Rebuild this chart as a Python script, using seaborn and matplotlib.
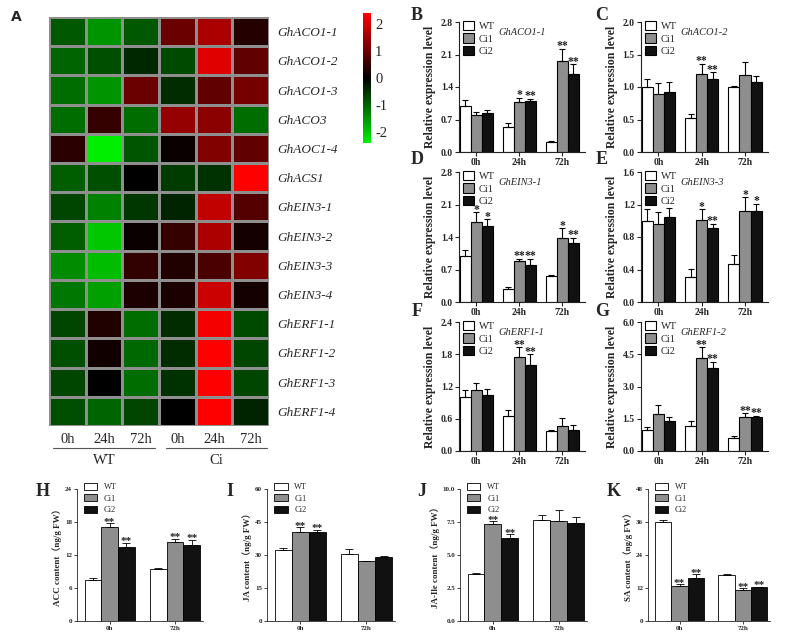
import numpy as np
import pandas as pd
import matplotlib
matplotlib.use("Agg")
import matplotlib.pyplot as plt
from matplotlib.colors import LinearSegmentedColormap
from matplotlib.patches import Patch
from matplotlib.ticker import FormatStrFormatter, MultipleLocator
import seaborn as sns

sns.set_theme(style="ticks")
plt.rcParams['font.family'] = ['Liberation Serif', 'Noto Sans CJK SC']
plt.rcParams['axes.unicode_minus'] = False

# ---- heatmap data (z-scores) ----
genes = ["GhACO1-1", "GhACO1-2", "GhACO1-3", "GhACO3", "GhAOC1-4", "GhACS1",
         "GhEIN3-1", "GhEIN3-2", "GhEIN3-3", "GhEIN3-4",
         "GhERF1-1", "GhERF1-2", "GhERF1-3", "GhERF1-4"]
heat_cols = ["0h", "24h", "72h", "0h", "24h", "72h"]
heat_values = [
    [-0.9, -1.5, -0.9, 1.0, 1.6, 0.35],
    [-1.0, -0.8, -0.4, -0.75, 2.1, 0.9],
    [-1.1, -1.5, 1.0, -0.45, 0.9, 1.1],
    [-1.1, 0.5, -1.1, 1.4, 1.3, -1.1],
    [0.4, -2.4, -0.85, 0.1, 1.2, 0.9],
    [-0.95, -0.8, 0.0, -0.6, -0.5, 2.4],
    [-0.7, -1.3, -0.55, -0.35, 1.8, 0.8],
    [-0.95, -2.0, 0.1, 0.5, 1.6, 0.2],
    [-1.4, -1.9, 0.45, 0.3, 0.7, 1.2],
    [-1.2, -1.6, 0.25, 0.25, 1.9, 0.2],
    [-0.7, 0.3, -1.1, -0.45, 2.3, -0.75],
    [-0.8, 0.15, -1.05, -0.45, 2.4, -0.7],
    [-0.7, 0.0, -1.1, -0.5, 2.4, -0.7],
    [-0.8, -1.0, -0.7, 0.0, 2.4, -0.35],
]

# ---- bar chart data, rows = WT, Ci1, Ci2 ----
lines = ["WT", "Ci1", "Ci2"]
times3 = ["0h", "24h", "72h"]
times2 = ["0h", "72h"]

aco1_1_mean = [[1.0, 0.53, 0.22], [0.79, 1.07, 1.97], [0.84, 1.10, 1.67]]
aco1_1_err = [[0.13, 0.09, 0.01], [0.08, 0.10, 0.25], [0.07, 0.05, 0.22]]
aco1_1_star = [["", "", ""], ["", "*", "**"], ["", "**", "**"]]

aco1_2_mean = [[1.0, 0.53, 1.0], [0.90, 1.20, 1.19], [0.93, 1.13, 1.08]]
aco1_2_err = [[0.13, 0.05, 0.02], [0.16, 0.16, 0.20], [0.15, 0.10, 0.09]]
aco1_2_star = [["", "", ""], ["", "**", ""], ["", "**", ""]]

ein3_1_mean = [[1.0, 0.28, 0.55], [1.73, 0.88, 1.37], [1.63, 0.80, 1.28]]
ein3_1_err = [[0.12, 0.04, 0.04], [0.20, 0.05, 0.22], [0.15, 0.13, 0.10]]
ein3_1_star = [["", "", ""], ["*", "**", "*"], ["*", "**", "**"]]

ein3_3_mean = [[1.0, 0.31, 0.47], [0.96, 1.01, 1.12], [1.05, 0.91, 1.12]]
ein3_3_err = [[0.15, 0.10, 0.11], [0.15, 0.13, 0.17], [0.11, 0.05, 0.09]]
ein3_3_star = [["", "", ""], ["", "*", "*"], ["", "**", "*"]]

erf1_1_mean = [[1.0, 0.65, 0.38], [1.13, 1.75, 0.46], [1.05, 1.60, 0.39]]
erf1_1_err = [[0.13, 0.11, 0.02], [0.14, 0.18, 0.16], [0.10, 0.20, 0.10]]
erf1_1_star = [["", "", ""], ["", "**", ""], ["", "**", ""]]

erf1_2_mean = [[1.0, 1.18, 0.62], [1.70, 4.33, 1.60], [1.38, 3.85, 1.57]]
erf1_2_err = [[0.13, 0.22, 0.08], [0.42, 0.50, 0.15], [0.20, 0.30, 0.08]]
erf1_2_star = [["", "", ""], ["", "**", "**"], ["", "**", "**"]]

acc_mean = [[7.5, 9.4], [17.1, 14.4], [13.5, 13.9]]
acc_err = [[0.3, 0.3], [0.7, 0.6], [0.7, 0.9]]
ja_mean = [[32.1, 30.3], [40.6, 27.2], [40.3, 29.1]]
ja_err = [[0.9, 2.3], [2.1, 0.3], [1.2, 0.3]]
jaile_mean = [[3.53, 7.66], [7.33, 7.59], [6.32, 7.41]]
jaile_err = [[0.10, 0.36], [0.23, 0.84], [0.25, 0.46]]
sa_mean = [[35.9, 16.6], [12.7, 11.2], [15.8, 12.2]]
sa_err = [[0.85, 0.6], [0.6, 0.7], [1.2, 0.25]]
acc_star = [["", ""], ["**", "**"], ["**", "**"]]
ja_star = [["", ""], ["**", ""], ["**", ""]]
jaile_star = [["", ""], ["**", ""], ["**", ""]]
sa_star = [["", ""], ["**", "**"], ["**", "**"]]

bar_colors = ["#ffffff", "#8e8e8e", "#111111"]

W, H = 797, 635
fig = plt.figure(figsize=(W / 100, H / 100), dpi=100)


def box(l, t, r, b):
    return [l / W, 1 - b / H, (r - l) / W, (b - t) / H]


# ---- heatmap ----
cmap = LinearSegmentedColormap.from_list("gkr", ["#00ee00", "#000000", "#ff0000"])
hm_ax = fig.add_axes(box(49, 17, 269, 426))
cb_ax = fig.add_axes(box(363, 13, 371, 143))
sns.heatmap(np.array(heat_values), ax=hm_ax, cbar_ax=cb_ax, cmap=cmap,
            vmin=-2.4, vmax=2.4, linewidths=0.8, linecolor="#8f8f8f",
            xticklabels=heat_cols, yticklabels=genes)
hm_ax.yaxis.tick_right()
hm_ax.set_yticklabels(genes, rotation=0, fontstyle="italic", fontsize=9.5)
hm_ax.set_xticklabels(heat_cols, rotation=0, fontsize=10.5)
hm_ax.tick_params(length=0, pad=6)
hm_ax.tick_params(axis="x", pad=5)
hm_ax.plot([0.12, 2.88], [14.75, 14.75], color="#555555", lw=0.8, clip_on=False)
hm_ax.plot([3.18, 5.94], [14.75, 14.75], color="#555555", lw=0.8, clip_on=False)
hm_ax.text(1.5, 14.95, "WT", ha="center", va="top", fontsize=10.5)
hm_ax.text(4.56, 14.95, "Ci", ha="center", va="top", fontsize=10.5)
cbar = hm_ax.collections[0].colorbar
cbar.set_ticks([-2, -1, 0, 1, 2])
cbar.outline.set_visible(False)
cb_ax.tick_params(length=0, labelsize=10.5, pad=3)
fig.text(16 / W, 1 - 17 / H, "A", fontsize=10, fontweight="bold",
         family="DejaVu Sans", ha="center", va="center")


def bar_panel(rect, times, means, errs, stars, top, step, fmt, ylabel,
              gene=None, small=False):
    ax = fig.add_axes(box(*rect))
    df = pd.DataFrame({
        "time": np.tile(times, len(lines)),
        "line": np.repeat(lines, len(times)),
        "value": np.ravel(means),
    })
    lw = 0.6 if small else 0.8
    sns.barplot(data=df, x="time", y="value", hue="line", hue_order=lines,
                palette=bar_colors, width=0.77, gap=0, edgecolor="black",
                linewidth=lw, errorbar=None, legend=False, ax=ax)
    cap = 2.8 if small else 2.2
    sfs = 8 if small else 8.5
    for cont, err, st in zip(ax.containers, errs, stars):
        for bar, e, s in zip(cont, err, st):
            x = bar.get_x() + bar.get_width() / 2
            h = bar.get_height()
            ax.errorbar(x, h, yerr=[[0], [e]], color="black", lw=lw,
                        capsize=cap, capthick=lw)
            if s:
                ax.annotate(s, (x, h + e), xytext=(0, -2.5),
                            textcoords="offset points", ha="center",
                            va="bottom", fontsize=sfs, fontweight="bold",
                            color="#222222")
    ax.set_ylim(0, top)
    ax.yaxis.set_major_locator(MultipleLocator(step))
    ax.yaxis.set_major_formatter(FormatStrFormatter(fmt))
    if small:
        ax.set_xlim(-0.5, 1.43)
    else:
        ax.set_xlim(-0.4, 2.53)
    sns.despine(ax=ax)
    for sp in ("left", "bottom"):
        ax.spines[sp].set_linewidth(lw)
        ax.spines[sp].set_color("#222222")
    ax.set_xlabel("")
    lfs = 5 if small else 7
    ax.tick_params(labelsize=lfs, length=2 if small else 3, width=lw, pad=1.5)
    for lab in ax.get_xticklabels() + ax.get_yticklabels():
        lab.set_fontweight("bold")
    ax.set_ylabel(ylabel, fontsize=6.5 if small else 8.5, fontweight="bold",
                  labelpad=2 if small else 3)
    handles = [Patch(facecolor=c, edgecolor="black", linewidth=lw) for c in bar_colors]
    if small:
        ax.legend(handles, lines, loc="upper left", bbox_to_anchor=(0.03, 1.07),
                  frameon=False, fontsize=6, handlelength=1.6, handleheight=0.9,
                  labelspacing=0.35, borderaxespad=0, handletextpad=0.8)
    else:
        ax.legend(handles, lines, loc="upper left", bbox_to_anchor=(0.0, 1.04),
                  frameon=False, fontsize=7.5, handlelength=1.0, handleheight=1.0,
                  labelspacing=0.2, borderaxespad=0, handletextpad=0.5)
    if gene:
        ax.text(0.31, 0.92, gene, transform=ax.transAxes, fontstyle="italic",
                fontsize=7.5, ha="left", va="center")
    return ax


rel = "Relative expression level"
bar_panel((459, 22, 585, 152), times3, aco1_1_mean, aco1_1_err, aco1_1_star,
          2.8, 0.7, "%.1f", rel, "GhACO1-1")
bar_panel((641, 22, 768, 152), times3, aco1_2_mean, aco1_2_err, aco1_2_star,
          2.0, 0.5, "%.1f", rel, "GhACO1-2")
bar_panel((459, 172, 585, 302), times3, ein3_1_mean, ein3_1_err, ein3_1_star,
          2.8, 0.7, "%.1f", rel, "GhEIN3-1")
bar_panel((641, 172, 768, 302), times3, ein3_3_mean, ein3_3_err, ein3_3_star,
          1.6, 0.4, "%.1f", rel, "GhEIN3-3")
bar_panel((459, 322, 585, 451), times3, erf1_1_mean, erf1_1_err, erf1_1_star,
          2.4, 0.6, "%.1f", rel, "GhERF1-1")
bar_panel((641, 322, 768, 451), times3, erf1_2_mean, erf1_2_err, erf1_2_star,
          6.0, 1.5, "%.1f", rel, "GhERF1-2")

bar_panel((77, 489, 203, 621), times2, acc_mean, acc_err, acc_star,
          24, 6, "%d", "ACC content（ng/g FW）", small=True)
bar_panel((267, 489, 395, 621), times2, ja_mean, ja_err, ja_star,
          60, 15, "%d", "JA content（ng/g FW）", small=True)
bar_panel((460, 489, 587, 621), times2, jaile_mean, jaile_err, jaile_star,
          10, 2.5, "%.1f", "JA-Ile content（ng/g FW）", small=True)
bar_panel((648, 489, 770, 621), times2, sa_mean, sa_err, sa_star,
          48, 12, "%d", "SA content（ng/g FW）", small=True)

# panel letters
letters = [("B", 417, 16), ("C", 602, 16), ("D", 417, 160), ("E", 602, 160),
           ("F", 417, 311), ("G", 602, 311), ("H", 43, 492), ("I", 230, 492),
           ("J", 422, 492), ("K", 614, 492)]
for let, x, y in letters:
    fig.text(x / W, 1 - y / H, let, fontsize=13, fontweight="bold",
             ha="center", va="center")

fig.savefig("out.png", dpi=100)
plt.close(fig)
